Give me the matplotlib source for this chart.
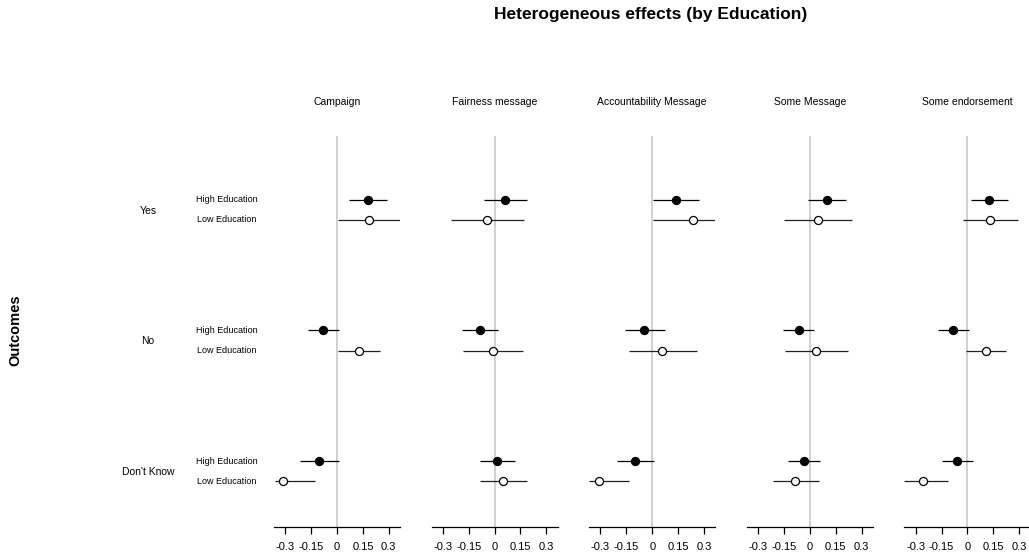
import matplotlib
matplotlib.use("Agg")
import matplotlib.pyplot as plt

plt.rcParams['font.family'] = ['Liberation Sans', 'DejaVu Sans']

treatments = ["Campaign", "Fairness message", "Accountability Message",
              "Some Message", "Some endorsement"]
outcomes = ["Yes", "No", "Don't Know"]
groups = ["High Education", "Low Education"]
tick_values = [-0.3, -0.15, 0, 0.15, 0.3]
tick_labels = ["-0.3", "-0.15", "0", "0.15", "0.3"]

# point estimates and confidence bounds, rows = treatment, cols = outcome
high_est = [[0.179, -0.079, -0.102],
            [0.063, -0.083, 0.012],
            [0.137, -0.048, -0.100],
            [0.100, -0.064, -0.035],
            [0.127, -0.083, -0.058]]
high_lo = [[0.071, -0.169, -0.213],
           [-0.063, -0.187, -0.087],
           [0.002, -0.158, -0.205],
           [-0.008, -0.156, -0.125],
           [0.021, -0.173, -0.146]]
high_hi = [[0.292, 0.013, 0.012],
           [0.189, 0.019, 0.121],
           [0.271, 0.073, 0.010],
           [0.210, 0.027, 0.058],
           [0.237, 0.012, 0.033]]

low_est = [[0.187, 0.125, -0.312],
           [-0.044, -0.010, 0.046],
           [0.237, 0.056, -0.306],
           [0.048, 0.037, -0.083],
           [0.133, 0.108, -0.256]]
low_lo = [[0.004, 0.004, -0.362],
          [-0.254, -0.185, -0.087],
          [0.006, -0.134, -0.365],
          [-0.147, -0.146, -0.215],
          [-0.025, -0.006, -0.366]]
low_hi = [[0.365, 0.250, -0.129],
          [0.169, 0.167, 0.185],
          [0.363, 0.258, -0.133],
          [0.246, 0.219, 0.052],
          [0.296, 0.225, -0.114]]

W, H = 1029, 557
fig = plt.figure(figsize=(W / 100, H / 100), dpi=100)

left0, pw, step = 274, 126, 157.6
top_px, bot_px = 136, 527
off = 0.077

for i, name in enumerate(treatments):
    ax = fig.add_axes([(left0 + i * step) / W, 1 - bot_px / H, pw / W,
                       (bot_px - top_px) / H])
    ax.axvline(0, color="#c8c8c8", lw=1.2, zorder=0)
    for j in range(len(outcomes)):
        yh = j - off
        yl = j + off
        ax.plot([high_lo[i][j], high_hi[i][j]], [yh, yh], color="black", lw=0.9,
                solid_capstyle="butt", zorder=2)
        ax.plot(high_est[i][j], yh, "o", ms=5.8, mfc="black", mec="black",
                mew=0.9, zorder=3)
        ax.plot([low_lo[i][j], low_hi[i][j]], [yl, yl], color="#222222", lw=0.9,
                solid_capstyle="butt", zorder=2)
        ax.plot(low_est[i][j], yl, "o", ms=5.8, mfc="white", mec="black",
                mew=0.9, zorder=3)
    ax.set_xlim(-0.365, 0.365)
    ax.set_ylim(2.429, -0.567)
    for s in ["top", "right", "left"]:
        ax.spines[s].set_visible(False)
    ax.spines["bottom"].set_linewidth(0.9)
    ax.set_yticks([])
    ax.set_xticks(tick_values)
    ax.set_xticklabels(tick_labels, fontsize=8)
    ax.tick_params(axis="x", length=5, width=0.9, pad=6)
    ax.patch.set_alpha(0)
    cx = (left0 + i * step + pw / 2) / W
    fig.text(cx, 1 - 102 / H, name, ha="center", va="center", fontsize=7.5)

group_y = [210, 340.5, 471]
for j, lab in enumerate(outcomes):
    fig.text(148 / W, 1 - (group_y[j] + 1) / H, lab, ha="center", va="center",
             fontsize=7.5)
    fig.text(227 / W, 1 - (group_y[j] - 10) / H, groups[0], ha="center",
             va="center", fontsize=6.5)
    fig.text(227 / W, 1 - (group_y[j] + 10) / H, groups[1], ha="center",
             va="center", fontsize=6.5)

fig.text(15 / W, 1 - 330 / H, "Outcomes", rotation=90, ha="center",
         va="center", fontsize=10.5, fontweight="bold")
fig.text(651 / W, 1 - 14 / H, "Heterogeneous effects (by Education)",
         ha="center", va="center", fontsize=12.5, fontweight="bold")

fig.savefig("out.png", dpi=100, facecolor="white")
